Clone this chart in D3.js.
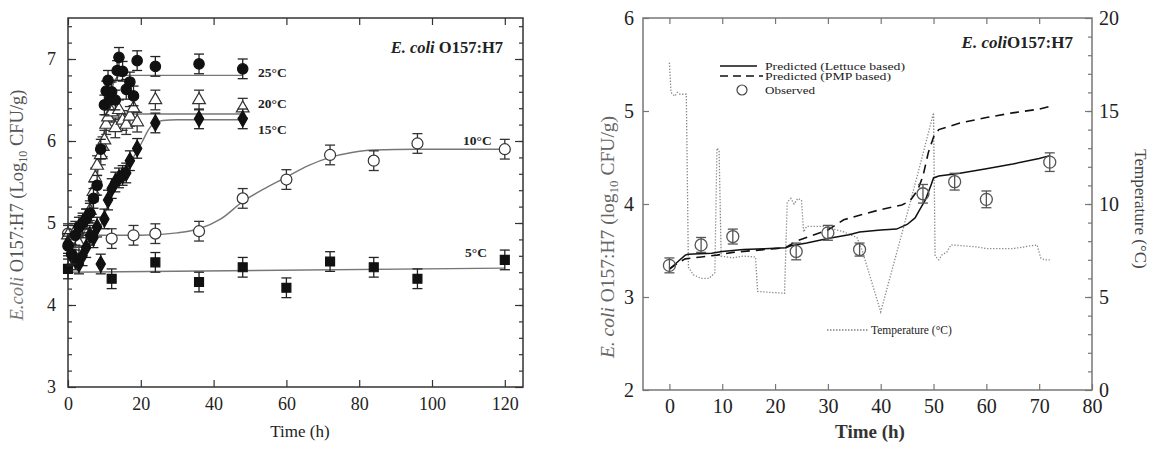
<!DOCTYPE html>
<html><head><meta charset="utf-8">
<script src="https://cdn.jsdelivr.net/npm/d3@7"></script>
<style>
body{margin:0;background:#fff;}
svg{display:block;font-family:"Liberation Serif","Times New Roman",serif;}
</style></head>
<body>
<svg id="chart" width="1155" height="453"></svg>
<script>
// ---------- LEFT PANEL DATA (time h, log10 CFU/g) ----------
const obs25 = [[0,4.72],[1,4.62],[2,4.85],[3,4.95],[4,5.0],[5,5.05],[6,5.12],[7,5.3],[8,5.46],[9,5.9],[10,6.44],[10.5,6.61],[11,6.74],[11.5,6.5],[12,6.6],[13,6.5],[13.5,6.86],[14,7.02],[15,6.85],[16,6.63],[17,6.72],[18,6.55],[19,6.98],[24,6.91],[36,6.94],[48,6.88]];
const obs20 = [[0,4.85],[1,4.8],[2,4.9],[3,4.75],[4,4.97],[5,5.05],[6,5.15],[7,5.38],[7.5,5.55],[8,5.7],[9,5.83],[9.5,5.93],[10,6.01],[10.5,6.2],[11,6.29],[12,6.35],[13,6.16],[14,6.38],[15,6.25],[16,6.2],[17,6.3],[18,6.4],[19,6.23],[24,6.5],[36,6.5],[48,6.4]];
const obs15 = [[0,4.75],[1,4.6],[2,4.55],[3,4.5],[4,4.6],[5,4.7],[6,4.85],[7,4.82],[8,4.95],[9,4.5],[10,5.05],[11,5.28],[12,5.42],[13,5.5],[14,5.55],[15,5.58],[16,5.61],[17,5.76],[19,5.91],[24,6.22],[36,6.27],[48,6.27]];
const obs10 = [[0,4.87],[12,4.81],[18,4.85],[24,4.87],[36,4.9],[48,5.3],[60,5.53],[72,5.83],[84,5.76],[96,5.97],[120,5.9]];
const obs5  = [[0,4.44],[12,4.32],[24,4.52],[36,4.28],[48,4.46],[60,4.21],[72,4.53],[84,4.46],[96,4.32],[120,4.55]];
const errLeft = 0.12;

const fit25 = [[0,4.75],[3,4.78],[5,4.95],[7,5.3],[9,5.85],[11,6.4],[12.5,6.7],[14,6.79],[16,6.8],[48,6.8]];
const fit20 = [[0,4.85],[3,4.88],[5,5.05],[7,5.4],[9,5.85],[10.5,6.15],[12,6.3],[14,6.33],[48,6.33]];
const fit15 = [[0,4.7],[6,4.72],[8,4.85],[10,5.1],[11.4,5.27],[16,5.65],[20.5,6.0],[22,6.13],[23.5,6.21],[26,6.25],[30,6.26],[48,6.26]];
const fit10 = [[0,4.85],[20,4.85],[30,4.88],[36,4.93],[42,5.05],[48,5.26],[54,5.42],[60,5.56],[66,5.7],[72,5.8],[78,5.86],[84,5.89],[96,5.9],[120,5.9]];
const fit5  = [[0,4.40],[120,4.45]];

const leftXTicks = [0,20,40,60,80,100,120];
const leftYTicks = [3,4,5,6,7];
const tempLabels = ["25°C","20°C","15°C","10°C","5°C"];

// ---------- RIGHT PANEL DATA ----------
const obsT   = [0,6,12,24,30,36,48,54,60,72];
const obsV   = [3.34,3.56,3.65,3.49,3.69,3.51,4.11,4.24,4.05,4.45];
const obsErr = [0.08,0.08,0.08,0.09,0.08,0.07,0.1,0.09,0.09,0.1];
const predLettuce = [[0,3.3],[1,3.35],[2,3.4],[3,3.45],[3.5,3.46],[8,3.47],[10,3.49],[14,3.51],[18,3.52],[22,3.53],[23,3.55],[26,3.58],[30,3.63],[34,3.67],[36,3.7],[40,3.72],[43,3.73],[45,3.78],[46.5,3.85],[47.5,3.95],[48.5,4.05],[49.5,4.2],[50,4.28],[51,4.3],[55,4.33],[60,4.38],[65,4.43],[70,4.49],[72,4.52]];
const predPMP = [[0,3.3],[2,3.38],[3,3.41],[6,3.43],[9,3.45],[12,3.48],[16,3.5],[20,3.52],[22,3.53],[24,3.6],[27,3.66],[30,3.72],[33,3.83],[36,3.88],[40,3.94],[44,3.99],[45.5,4.03],[47,4.15],[48,4.3],[49,4.55],[50,4.72],[51,4.8],[55,4.87],[60,4.93],[65,4.98],[70,5.02],[72,5.05]];
const temperature = [[0,17.6],[0.3,16.0],[1,15.8],[1.5,16.0],[2,15.9],[3.2,15.9],[3.6,6.6],[4.5,6.2],[6,6.0],[7.5,6.0],[8.6,6.3],[9.0,13.0],[9.4,12.9],[9.8,7.2],[12,7.1],[14,7.2],[16.3,7.15],[16.7,5.3],[19,5.25],[21.8,5.2],[22.3,10.1],[23,10.3],[23.6,10.0],[24.3,10.3],[25,10.2],[25.4,8.5],[26,8.8],[29,8.8],[33,8.5],[35.5,8.2],[36.5,7.5],[40,4.2],[44,8.4],[47,11.6],[50,14.9],[50.3,7.2],[51,7.0],[51.7,7.3],[52.5,7.4],[53.3,7.8],[58,7.7],[60,7.6],[65,7.6],[69.6,7.8],[70.3,7.1],[71,7.0],[72,7.0]];
const rightXTicks = [0,10,20,30,40,50,60,70,80];
const rightYTicks = [2,3,4,5,6];
const rightTTicks = [0,5,10,15,20];
const legendItems = ["Predicted (Lettuce based)","Predicted (PMP based)","Observed"];

const svg = d3.select("#chart");

// ================= LEFT PANEL =================
const xL = d3.scaleLinear().domain([0,125]).range([68,523]);
const yL = d3.scaleLinear().domain([3,7.5]).range([387,18]);
const gL = svg.append("g");
const axisColL = "#333";

function styleAxis(g,col){
  g.select(".domain").remove();
  g.selectAll("line").attr("stroke",col).attr("stroke-width",1.2);
  g.selectAll("text").attr("fill","#222").attr("font-family","Liberation Serif, serif");
}
gL.append("g").attr("transform","translate(68,0)")
  .call(d3.axisLeft(yL).tickValues(d3.range(3.2,7.5,0.2)).tickFormat("").tickSizeInner(-4).tickSizeOuter(0))
  .call(g=>styleAxis(g,axisColL));
gL.append("g").attr("transform","translate(523,0)")
  .call(d3.axisRight(yL).tickValues(d3.range(3.2,7.5,0.2)).tickFormat("").tickSizeInner(-4).tickSizeOuter(0))
  .call(g=>styleAxis(g,axisColL));
gL.append("g").attr("transform","translate(68,0)")
  .call(d3.axisLeft(yL).tickValues(leftYTicks).tickFormat(d3.format("d")).tickSizeInner(-8).tickSizeOuter(0).tickPadding(12))
  .call(g=>styleAxis(g,axisColL)).selectAll("text").attr("font-size",18);
gL.append("g").attr("transform","translate(523,0)")
  .call(d3.axisRight(yL).tickValues(leftYTicks).tickFormat("").tickSizeInner(-8).tickSizeOuter(0))
  .call(g=>styleAxis(g,axisColL));
gL.append("g").attr("transform","translate(0,387)")
  .call(d3.axisBottom(xL).tickValues(leftXTicks).tickFormat(d3.format("d")).tickSizeInner(-7).tickSizeOuter(0).tickPadding(10))
  .call(g=>styleAxis(g,axisColL)).selectAll("text").attr("font-size",18);
gL.append("g").attr("transform","translate(0,18)")
  .call(d3.axisTop(xL).tickValues(leftXTicks).tickFormat("").tickSizeInner(-7).tickSizeOuter(0))
  .call(g=>styleAxis(g,axisColL));
gL.append("rect").attr("x",68).attr("y",18).attr("width",455).attr("height",369)
  .attr("fill","none").attr("stroke",axisColL).attr("stroke-width",1.5);

const lineL = d3.line().x(d=>xL(d[0])).y(d=>yL(d[1])).curve(d3.curveMonotoneX);
[fit5,fit10,fit15,fit20,fit25].forEach(f=>{
  gL.append("path").attr("d",lineL(f)).attr("fill","none").attr("stroke","#777").attr("stroke-width",1.4);
});

function errBars(g,data,xs,ys,err,col){
  data.forEach((d,i)=>{
    const e = Array.isArray(err)?err[i]:err;
    const x = xs(d[0]), y1 = ys(d[1]-e), y2 = ys(d[1]+e);
    g.append("line").attr("x1",x).attr("x2",x).attr("y1",y1).attr("y2",y2).attr("stroke",col).attr("stroke-width",1.3);
    g.append("line").attr("x1",x-5).attr("x2",x+5).attr("y1",y1).attr("y2",y1).attr("stroke",col).attr("stroke-width",1.3);
    g.append("line").attr("x1",x-5).attr("x2",x+5).attr("y1",y2).attr("y2",y2).attr("stroke",col).attr("stroke-width",1.3);
  });
}
function markers(g,data,type,size,fill,stroke){
  g.selectAll(null).data(data).enter().append("path")
    .attr("transform",d=>`translate(${xL(d[0])},${yL(d[1])})`)
    .attr("d",d3.symbol().type(type).size(size))
    .attr("fill",fill).attr("stroke",stroke).attr("stroke-width",1.2);
}
const mk = gL.append("g");
errBars(mk,obs5,xL,yL,errLeft,"#222");
markers(mk,obs5,d3.symbolSquare,80,"#111","#111");
errBars(mk,obs10,xL,yL,errLeft,"#333");
markers(mk,obs10,d3.symbolCircle,95,"#fff","#333");
errBars(mk,obs20,xL,yL,errLeft,"#333");
markers(mk,obs20,d3.symbolTriangle,70,"#fff","#333");
errBars(mk,obs15,xL,yL,errLeft,"#222");
markers(mk,obs15,d3.symbolDiamond,75,"#111","#111");
errBars(mk,obs25,xL,yL,errLeft,"#222");
markers(mk,obs25,d3.symbolCircle,85,"#111","#111");

const lblPos = [[258,77],[258,108],[258,134],[463,145],[465,257]];
tempLabels.forEach((t,i)=>{
  gL.append("text").attr("x",lblPos[i][0]).attr("y",lblPos[i][1]).text(t)
    .attr("font-size",13.5).attr("font-weight","bold").attr("fill","#222");
});
const annL = gL.append("text").attr("x",503).attr("y",53).attr("text-anchor","end").attr("font-size",16.5).attr("font-weight","bold").attr("fill","#222");
annL.append("tspan").attr("font-style","italic").text("E. coli ");
annL.append("tspan").text("O157:H7");
gL.append("text").attr("x",300).attr("y",437).attr("text-anchor","middle").attr("font-size",17).attr("fill","#222").text("Time (h)");
const ylL = gL.append("text").attr("transform","translate(23,205) rotate(-90)").attr("text-anchor","middle").attr("font-size",18.5).attr("fill","#555");
ylL.append("tspan").attr("font-style","italic").attr("fill","#777").text("E.coli ");
ylL.append("tspan").text("O157:H7 (Log");
ylL.append("tspan").attr("font-size",12).attr("dy",4).text("10");
ylL.append("tspan").attr("dy",-4).text(" CFU/g)");

// ================= RIGHT PANEL =================
const xR = d3.scaleLinear().domain([-5,80]).range([643,1092]);
const yR = d3.scaleLinear().domain([2,6]).range([390,18]);
const yT = d3.scaleLinear().domain([0,20]).range([390,18]);
const gR = svg.append("g");
const axisColR = "#777";

gR.append("g").attr("transform","translate(643,0)")
  .call(d3.axisLeft(yR).tickValues(rightYTicks).tickFormat(d3.format("d")).tickSizeInner(-6).tickSizeOuter(0).tickPadding(9))
  .call(g=>styleAxis(g,axisColR)).selectAll("text").attr("font-size",20);
gR.append("g").attr("transform","translate(1092,0)")
  .call(d3.axisRight(yT).tickValues(d3.range(1,20,1)).tickFormat("").tickSizeInner(-4).tickSizeOuter(0))
  .call(g=>styleAxis(g,axisColR));
gR.append("g").attr("transform","translate(1092,0)")
  .call(d3.axisRight(yT).tickValues(rightTTicks).tickFormat(d3.format("d")).tickSizeInner(-7).tickSizeOuter(0).tickPadding(7))
  .call(g=>styleAxis(g,axisColR)).selectAll("text").attr("font-size",20);
gR.append("g").attr("transform","translate(0,390)")
  .call(d3.axisBottom(xR).tickValues(rightXTicks).tickFormat(d3.format("d")).tickSizeInner(-6).tickSizeOuter(0).tickPadding(9))
  .call(g=>styleAxis(g,axisColR)).selectAll("text").attr("font-size",20);
gR.append("g").attr("transform","translate(0,18)")
  .call(d3.axisTop(xR).tickValues(rightXTicks.slice(0,8)).tickFormat("").tickSizeInner(-6).tickSizeOuter(0))
  .call(g=>styleAxis(g,axisColR));
gR.append("rect").attr("x",643).attr("y",18).attr("width",449).attr("height",372)
  .attr("fill","none").attr("stroke",axisColR).attr("stroke-width",1.5);

gR.append("path").attr("d",d3.line().x(d=>xR(d[0])).y(d=>yT(d[1]))(temperature))
  .attr("fill","none").attr("stroke","#888").attr("stroke-width",1.3).attr("stroke-dasharray","1.3,1.7");
const lineR = d3.line().x(d=>xR(d[0])).y(d=>yR(d[1]));
gR.append("path").attr("d",lineR(predPMP)).attr("fill","none").attr("stroke","#111").attr("stroke-width",1.6).attr("stroke-dasharray","9,6");
gR.append("path").attr("d",lineR(predLettuce)).attr("fill","none").attr("stroke","#111").attr("stroke-width",1.5);
const obsPts = obsT.map((t,i)=>[t,obsV[i]]);
errBars(gR,obsPts,xR,yR,obsErr,"#555");
gR.selectAll(null).data(obsPts).enter().append("circle")
  .attr("cx",d=>xR(d[0])).attr("cy",d=>yR(d[1])).attr("r",6)
  .attr("fill","none").attr("stroke","#555").attr("stroke-width",1.3);

// legend
const lg = gR.append("g").attr("font-size",11).attr("fill","#222");
lg.append("line").attr("x1",720).attr("x2",757).attr("y1",66).attr("y2",66).attr("stroke","#111").attr("stroke-width",1.4);
lg.append("line").attr("x1",720).attr("x2",763).attr("y1",76).attr("y2",76).attr("stroke","#111").attr("stroke-width",1.4).attr("stroke-dasharray","8,5");
lg.append("circle").attr("cx",742).attr("cy",90).attr("r",5).attr("fill","none").attr("stroke","#444").attr("stroke-width",1.2);
legendItems.forEach((t,i)=>{
  lg.append("text").attr("x",765).attr("y",[70,80,94][i]).attr("textLength",[140,126,50][i]).attr("lengthAdjust","spacingAndGlyphs").text(t);
});
lg.append("line").attr("x1",827).attr("x2",868).attr("y1",330).attr("y2",330).attr("stroke","#444").attr("stroke-width",1.2).attr("stroke-dasharray","1.5,1.5");
lg.append("text").attr("x",871).attr("y",334).attr("font-size",11.5).text("Temperature (°C)");

const annR = gR.append("text").attr("x",1073).attr("y",48).attr("text-anchor","end").attr("font-size",17).attr("font-weight","bold").attr("fill","#222");
annR.append("tspan").attr("font-style","italic").text("E. coli");
annR.append("tspan").text("O157:H7");

gR.append("text").attr("x",870).attr("y",438).attr("text-anchor","middle").attr("font-size",19).attr("font-weight","bold").attr("fill","#333").text("Time (h)");
const ylR = gR.append("text").attr("transform","translate(614,237) rotate(-90)").attr("text-anchor","middle").attr("font-size",19.5).attr("fill","#666");
ylR.append("tspan").attr("font-style","italic").text("E. coli ");
ylR.append("tspan").text("O157:H7 (log");
ylR.append("tspan").attr("font-size",13).attr("dy",4).text("10");
ylR.append("tspan").attr("dy",-4).text(" CFU/g)");
gR.append("text").attr("transform","translate(1135,209) rotate(90)").attr("text-anchor","middle").attr("font-size",17).attr("fill","#444").text("Temperature (°C)");
</script>
</body></html>
